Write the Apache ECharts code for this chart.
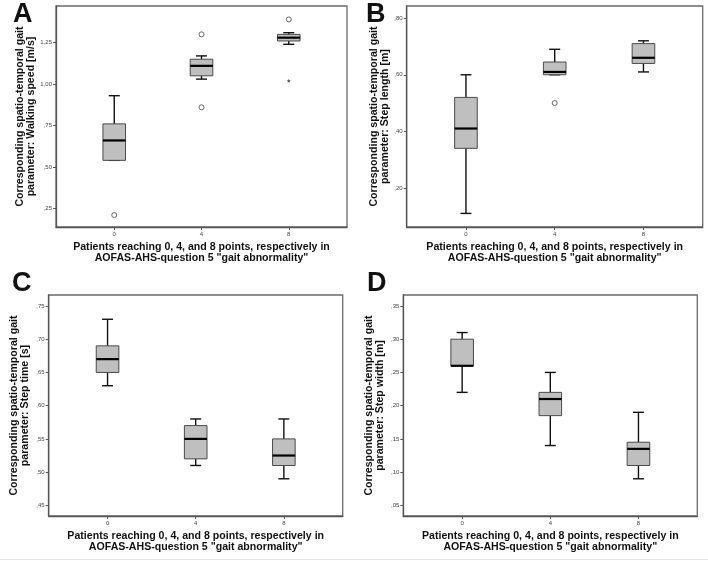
<!DOCTYPE html>
<html>
<head>
<meta charset="utf-8">
<script src="https://cdn.jsdelivr.net/npm/echarts@6/dist/echarts.min.js"></script>
<style>
html,body{margin:0;padding:0;background:#fff;}
#chart{width:708px;height:562px;}
</style>
</head>
<body>
<div id="chart"></div>
<script>
// ---- data ----
const categories = [0, 4, 8];
const xTickLabels = ['0', '4', '8'];

// box stats per category: [lower whisker, Q1, median, Q3, upper whisker]
const speedBoxes  = [[0.54, 0.54, 0.66, 0.76, 0.93], [1.03, 1.05, 1.11, 1.15, 1.17], [1.24, 1.26, 1.28, 1.30, 1.31]];
const speedOutliers = [[0, 0.21], [4, 1.30], [4, 0.86], [8, 1.39]];
const speedExtremes = [[8, 1.02]];
const speedTicks = [0.25, 0.50, 0.75, 1.00, 1.25];

const lengthBoxes = [[0.11, 0.34, 0.41, 0.52, 0.60], [0.60, 0.60, 0.61, 0.645, 0.69], [0.61, 0.64, 0.66, 0.71, 0.72]];
const lengthOutliers = [[4, 0.50]];
const lengthTicks = [0.20, 0.40, 0.60, 0.80];

const timeBoxes = [[0.63, 0.65, 0.67, 0.69, 0.73], [0.51, 0.52, 0.55, 0.57, 0.58], [0.49, 0.51, 0.525, 0.55, 0.58]];
const timeTicks = [0.45, 0.50, 0.55, 0.60, 0.65, 0.70, 0.75];

const widthBoxes = [[0.22, 0.26, 0.26, 0.30, 0.31], [0.14, 0.185, 0.21, 0.22, 0.25], [0.09, 0.11, 0.135, 0.145, 0.19]];
const widthTicks = [0.05, 0.10, 0.15, 0.20, 0.25, 0.30, 0.35];

const xTitle = 'Patients reaching 0, 4, and 8 points, respectively in\nAOFAS-AHS-question 5 "gait abnormality"';
const yTitles = [
  'Corresponding spatio-temporal gait\nparameter: Walking speed [m/s]',
  'Corresponding spatio-temporal gait\nparameter: Step length [m]',
  'Corresponding spatio-temporal gait\nparameter: Step time [s]',
  'Corresponding spatio-temporal gait\nparameter: Step width [m]'
];
const panelLetters = ['A', 'B', 'C', 'D'];

// ---- layout ----
const FONT = '"Liberation Sans", Arial, sans-serif';
const grids = [
  {left: 56, top: 6, width: 291, height: 221},
  {left: 406.7, top: 6, width: 296, height: 221},
  {left: 48.7, top: 295, width: 294, height: 221},
  {left: 403.3, top: 295, width: 294, height: 221}
];
const yRanges = [[0.138, 1.471], [0.062, 0.843], [0.434, 0.7665], [0.034, 0.3665]];
const yTickSets = [speedTicks, lengthTicks, timeTicks, widthTicks];
const yNameGaps = [18, 16, 18, 18];
const letterPos = [[13, 1], [366, 1], [12, 270], [367, 270]];

function fmtTick(v) {
  const s = v.toFixed(2).replace('.', ',');
  return s.startsWith('0') ? s.slice(1) : s;
}

const boxSets = [speedBoxes, lengthBoxes, timeBoxes, widthBoxes];
const outlierSets = [speedOutliers, lengthOutliers, [], []];
const extremeSets = [speedExtremes, [], [], []];

const BOX_HALF = 11.3, CAP_HALF = 5.5;
function renderBox(params, api) {
  const x = api.value(0);
  const pMin = api.coord([x, api.value(1)]);
  const pQ1 = api.coord([x, api.value(2)]);
  const pMed = api.coord([x, api.value(3)]);
  const pQ3 = api.coord([x, api.value(4)]);
  const pMax = api.coord([x, api.value(5)]);
  const cx = pMed[0];
  const wStyle = {stroke: '#111', lineWidth: 1.4};
  return {
    type: 'group',
    children: [
      {type: 'line', shape: {x1: cx, y1: pMax[1], x2: cx, y2: pQ3[1]}, style: wStyle},
      {type: 'line', shape: {x1: cx, y1: pMin[1], x2: cx, y2: pQ1[1]}, style: wStyle},
      {type: 'line', shape: {x1: cx - CAP_HALF, y1: pMax[1], x2: cx + CAP_HALF, y2: pMax[1]}, style: wStyle},
      {type: 'line', shape: {x1: cx - CAP_HALF, y1: pMin[1], x2: cx + CAP_HALF, y2: pMin[1]}, style: wStyle},
      {type: 'rect', shape: {x: cx - BOX_HALF, y: pQ3[1], width: 2 * BOX_HALF, height: pQ1[1] - pQ3[1]},
        style: {fill: '#bfbfbf', stroke: '#4a4a4a', lineWidth: 1}},
      {type: 'line', shape: {x1: cx - BOX_HALF, y1: pMed[1], x2: cx + BOX_HALF, y2: pMed[1]},
        style: {stroke: '#000', lineWidth: 2.2}}
    ]
  };
}

const xAxes = [], yAxes = [], series = [], gridOpts = [], graphics = [];
for (let i = 0; i < 4; i++) {
  gridOpts.push(Object.assign({show: true, borderColor: '#6a6a6a', borderWidth: 1.3, backgroundColor: '#fff',
    containLabel: false, outerBoundsMode: 'none'}, grids[i]));
  xAxes.push({
    type: 'value', gridIndex: i, min: -2.67, max: 10.67,
    splitLine: {show: false},
    axisLine: {show: true, onZero: false, lineStyle: {color: '#555', width: 1.3}},
    axisTick: {show: true, length: 3, inside: false, customValues: categories, lineStyle: {color: '#555'}},
    axisLabel: {show: true, customValues: categories, margin: 4, fontSize: 6, color: '#444', fontFamily: FONT,
      formatter: v => xTickLabels[categories.indexOf(v)]},
    name: xTitle, nameLocation: 'middle', nameGap: 15,
    nameTextStyle: {fontFamily: FONT, fontWeight: 'bold', fontSize: 10.6, lineHeight: 11, color: '#111', align: 'center', verticalAlign: 'top'}
  });
  yAxes.push({
    type: 'value', gridIndex: i, min: yRanges[i][0], max: yRanges[i][1],
    splitLine: {show: false},
    axisLine: {show: true, onZero: false, lineStyle: {color: '#555', width: 1.3}},
    axisTick: {show: true, length: 3, customValues: yTickSets[i], lineStyle: {color: '#555'}},
    axisLabel: {show: true, customValues: yTickSets[i], margin: 4, fontSize: 6, color: '#444', fontFamily: FONT,
      formatter: fmtTick},
    name: yTitles[i], nameLocation: 'middle', nameGap: yNameGaps[i], nameRotate: 90,
    nameTextStyle: {fontFamily: FONT, fontWeight: 'bold', fontSize: 10.6, lineHeight: 11, color: '#111'}
  });
  series.push({
    type: 'custom', xAxisIndex: i, yAxisIndex: i,
    renderItem: renderBox,
    encode: {x: 0, y: [1, 2, 3, 4, 5]},
    data: boxSets[i].map((b, k) => [categories[k]].concat(b)),
    silent: true
  });
  if (outlierSets[i].length) {
    series.push({
      type: 'scatter', xAxisIndex: i, yAxisIndex: i, data: outlierSets[i],
      symbol: 'circle', symbolSize: 5,
      itemStyle: {color: '#fff', borderColor: '#444', borderWidth: 1}, silent: true
    });
  }
  if (extremeSets[i].length) {
    series.push({
      type: 'scatter', xAxisIndex: i, yAxisIndex: i, data: extremeSets[i],
      symbol: 'path://M0,-10L2.5,-3.5L9.5,-3.1L4,1.2L5.9,8.1L0,4.2L-5.9,8.1L-4,1.2L-9.5,-3.1L-2.5,-3.5Z', symbolSize: 4,
      itemStyle: {color: '#222'}, silent: true
    });
  }
  graphics.push({
    type: 'text', left: letterPos[i][0], top: letterPos[i][1],
    style: {text: panelLetters[i], fontFamily: FONT, fontWeight: 'bold', fontSize: 27, fill: '#111'}
  });
}
graphics.push({type: 'line', shape: {x1: 0, y1: 559.5, x2: 708, y2: 559.5}, style: {stroke: '#e4e4e4', lineWidth: 1}});

const chart = echarts.init(document.getElementById('chart'), null, {renderer: 'canvas'});
chart.setOption({
  animation: false,
  backgroundColor: '#fff',
  grid: gridOpts,
  xAxis: xAxes,
  yAxis: yAxes,
  series: series,
  graphic: graphics
});
</script>
</body>
</html>
